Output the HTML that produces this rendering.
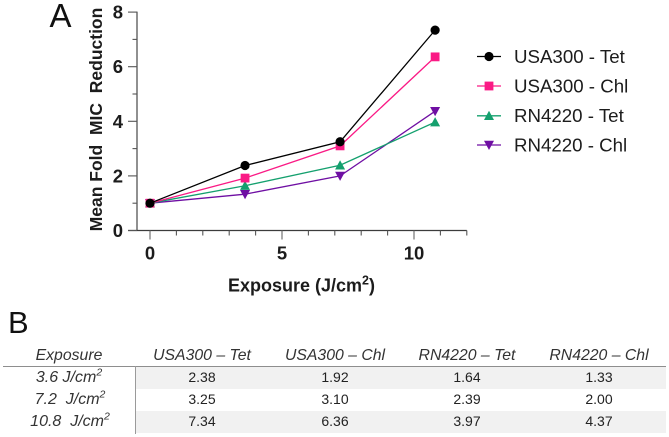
<!DOCTYPE html>
<html>
<head>
<meta charset="utf-8">
<style>
html,body{margin:0;padding:0;background:#fff;}
body{width:669px;height:437px;position:relative;overflow:hidden;font-family:"Liberation Sans",sans-serif;color:#1c1c1c;}
svg{position:absolute;left:0;top:0;}
.c{position:absolute;text-align:center;white-space:nowrap;}
.h,.r{font-style:italic;font-size:15.8px;color:#333;line-height:20px;}
.r{font-size:16px;}
.v{font-size:14px;color:#222;line-height:20px;}
.c sup{font-size:10.5px;line-height:0;}
.band{position:absolute;background:#f1f1f1;left:136px;width:530px;}
</style>
</head>
<body>
<svg id="chart" width="669" height="437" viewBox="0 0 669 437" xmlns="http://www.w3.org/2000/svg">
  <text x="49.5" y="27" font-size="33" fill="#111" font-family="Liberation Sans, sans-serif">A</text>
  <text x="8" y="333" font-size="31" fill="#111" font-family="Liberation Sans, sans-serif">B</text>
  <text transform="translate(102,119.5) rotate(-90)" text-anchor="middle" font-size="17.5" font-weight="bold" fill="#1c1c1c" style="white-space:pre" xml:space="preserve" font-family="Liberation Sans, sans-serif">Mean Fold  MIC  Reduction</text>
  <text x="301.5" y="291.5" text-anchor="middle" font-size="18" font-weight="bold" fill="#1c1c1c" font-family="Liberation Sans, sans-serif">Exposure (J/cm<tspan font-size="12.5" dy="-7">2</tspan><tspan dy="7">)</tspan></text>
  <g id="axes"></g>
  <g id="series"></g>
  <g id="legend"></g>
</svg>

<div class="band" style="top:367px;height:22px;"></div>
<div class="band" style="top:411px;height:22px;"></div>
<div style="position:absolute;left:3px;top:366px;width:663px;height:1px;background:#8e8e8e;"></div>
<div style="position:absolute;left:135px;top:366px;width:1px;height:68px;background:#9a9a9a;"></div>

<div class="c h" style="left:3px;width:132px;top:346px;">Exposure</div>
<div class="c h" style="left:142px;width:120px;top:346px;">USA300 – Tet</div>
<div class="c h" style="left:275px;width:120px;top:346px;">USA300 – Chl</div>
<div class="c h" style="left:407px;width:120px;top:346px;">RN4220 – Tet</div>
<div class="c h" style="left:539px;width:120px;top:346px;">RN4220 – Chl</div>

<div class="c r" style="left:3px;width:132px;top:368px;">3.6 J/cm<sup>2</sup></div>
<div class="c r" style="left:3px;width:134px;top:390px;">7.2&nbsp; J/cm<sup>2</sup></div>
<div class="c r" style="left:3px;width:134px;top:412px;">10.8&nbsp; J/cm<sup>2</sup></div>

<div class="c v" style="left:142px;width:120px;top:367px;">2.38</div>
<div class="c v" style="left:275px;width:120px;top:367px;">1.92</div>
<div class="c v" style="left:407px;width:120px;top:367px;">1.64</div>
<div class="c v" style="left:539px;width:120px;top:367px;">1.33</div>
<div class="c v" style="left:142px;width:120px;top:389px;">3.25</div>
<div class="c v" style="left:275px;width:120px;top:389px;">3.10</div>
<div class="c v" style="left:407px;width:120px;top:389px;">2.39</div>
<div class="c v" style="left:539px;width:120px;top:389px;">2.00</div>
<div class="c v" style="left:142px;width:120px;top:411px;">7.34</div>
<div class="c v" style="left:275px;width:120px;top:411px;">6.36</div>
<div class="c v" style="left:407px;width:120px;top:411px;">3.97</div>
<div class="c v" style="left:539px;width:120px;top:411px;">4.37</div>

<script>
const exposures = [0, 3.6, 7.2, 10.8];
const usa300Tet = [1, 2.38, 3.25, 7.34];
const usa300Chl = [1, 1.92, 3.10, 6.36];
const rn4220Tet = [1, 1.64, 2.39, 3.97];
const rn4220Chl = [1, 1.33, 2.00, 4.37];
const seriesNames = ['USA300 - Tet', 'USA300 - Chl', 'RN4220 - Tet', 'RN4220 - Chl'];
const seriesValues = [usa300Tet, usa300Chl, rn4220Tet, rn4220Chl];
const seriesColors = ['#000000', '#fa1a85', '#14a06e', '#6f0fa3'];
const seriesMarkers = ['circle', 'square', 'up', 'down'];
const yTickLabels = [0, 2, 4, 6, 8];
const yMinorTicks = [1, 3, 5, 7];
const xTickLabels = [0, 5, 10];
const xMinorTicks = [1, 2, 3, 4, 6, 7, 8, 9, 11, 12];

const NS = 'http://www.w3.org/2000/svg';
const X0 = 150, XS = 26.4, Y0 = 230.5, YS = 27.3;
function xScale(v) { return X0 + v * XS; }
function yScale(v) { return Y0 - v * YS; }

function mk(parent, tag, attrs) {
  const el = document.createElementNS(NS, tag);
  for (const k in attrs) el.setAttribute(k, attrs[k]);
  parent.appendChild(el);
  return el;
}

function drawMarker(parent, kind, cx, cy, color, name) {
  let el;
  if (kind === 'circle') {
    el = mk(parent, 'circle', { cx: cx, cy: cy, r: 4.6, fill: color });
  } else if (kind === 'square') {
    el = mk(parent, 'rect', { x: cx - 4.4, y: cy - 4.4, width: 8.8, height: 8.8, fill: color });
  } else if (kind === 'up') {
    el = mk(parent, 'polygon', { points: [cx - 5, cy + 4.2, cx + 5, cy + 4.2, cx, cy - 5].join(' '), fill: color });
  } else {
    el = mk(parent, 'polygon', { points: [cx - 5, cy - 4.2, cx + 5, cy - 4.2, cx, cy + 5].join(' '), fill: color });
  }
  
  
  return el;
}

const axes = document.getElementById('axes');
const axisColor = '#3c3c3c';

const yLine = mk(axes, 'line', { x1: 137, x2: 137, y1: yScale(8) - 0.5, y2: yScale(0) + 0.5, stroke: '#555', 'stroke-width': 1.3 });


const xLine = mk(axes, 'line', { x1: 128, x2: xScale(12), y1: Y0, y2: Y0, stroke: axisColor, 'stroke-width': 1.2 });



yTickLabels.forEach(function (v) {
  const t = mk(axes, 'line', { x1: 128, x2: 137, y1: yScale(v), y2: yScale(v), stroke: '#555', 'stroke-width': 1.1 });
  
  
  const l = mk(axes, 'text', { x: 123, y: yScale(v) + 6.5, 'text-anchor': 'end', 'font-size': 18.5, 'font-weight': 'bold', fill: '#1c1c1c', 'font-family': 'Liberation Sans, sans-serif' });
  l.textContent = v;
  
  
});
yMinorTicks.forEach(function (v) {
  const t = mk(axes, 'line', { x1: 132.5, x2: 137, y1: yScale(v), y2: yScale(v), stroke: '#555', 'stroke-width': 1.1 });
  
  
});
xTickLabels.forEach(function (v) {
  const t = mk(axes, 'line', { x1: xScale(v), x2: xScale(v), y1: Y0, y2: Y0 + 9, stroke: '#666', 'stroke-width': 1.1 });
  
  
  const l = mk(axes, 'text', { x: xScale(v), y: Y0 + 29, 'text-anchor': 'middle', 'font-size': 18.5, 'font-weight': 'bold', fill: '#1c1c1c', 'font-family': 'Liberation Sans, sans-serif' });
  l.textContent = v;
  
  
});
xMinorTicks.forEach(function (v) {
  const t = mk(axes, 'line', { x1: xScale(v), x2: xScale(v), y1: Y0, y2: Y0 + 5, stroke: '#555', 'stroke-width': 1.1 });
  
  
});

const seriesGroup = document.getElementById('series');
for (let s = seriesValues.length - 1; s >= 0; s--) {
  const vals = seriesValues[s];
  const pts = vals.map(function (v, i) { return xScale(exposures[i]) + ',' + yScale(v); }).join(' ');
  const line = mk(seriesGroup, 'polyline', { points: pts, fill: 'none', stroke: seriesColors[s], 'stroke-width': 1.3 });
  
  
  vals.forEach(function (v, i) {
    drawMarker(seriesGroup, seriesMarkers[s], xScale(exposures[i]), yScale(v), seriesColors[s], 'data-point');
  });
}

const legend = document.getElementById('legend');
const legendY = [56.5, 86, 115.8, 145];
seriesNames.forEach(function (n, i) {
  const ly = legendY[i];
  const ln = mk(legend, 'line', { x1: 477, x2: 501, y1: ly, y2: ly, stroke: seriesColors[i], 'stroke-width': 1.3 });
  
  
  drawMarker(legend, seriesMarkers[i], 489, ly, seriesColors[i], 'legend-marker');
  const t = mk(legend, 'text', { x: 514, y: ly + 6.3, 'font-size': 18.7, fill: '#1c1c1c', 'font-family': 'Liberation Sans, sans-serif' });
  t.textContent = n;
  
  
});
</script>
</body>
</html>
